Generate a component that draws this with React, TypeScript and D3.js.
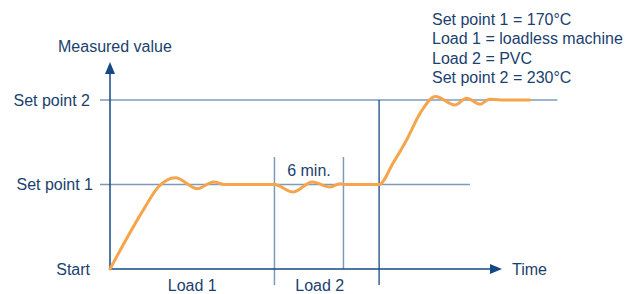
import React from "react";
import * as d3 from "d3";

// time in minutes, value in set-point levels (0 = start, 1 = set point 1, 2 = set point 2)
const curveT = [0, 2.9, 4.2, 5.7, 7.6, 9.0, 10.0, 14.3, 15.9, 17.6, 19.1, 20.0, 20.4, 23.4, 24.6, 25.8, 27.0, 28.3, 30.0, 31.0, 32.2, 33.0, 34.0, 36.5];
const curveV = [0, 0.7, 0.97, 1.08, 0.95, 1.03, 1.0, 1.0, 0.91, 1.03, 0.97, 1.01, 1.0, 1.0, 1.25, 1.53, 1.85, 2.04, 1.94, 2.02, 1.95, 2.01, 2.0, 2.0];

const levelLabels = ["Start", "Set point 1", "Set point 2"];
const levels = [0, 1, 2];
const load2Start = 14.3;
const sixMinEnd = 20.3;
const sp2Start = 23.4;
const notes = ["Set point 1 = 170°C", "Load 1 = loadless machine", "Load 2 = PVC", "Set point 2 = 230°C"];

const W = 625;
const H = 294;
const navy = "#134a85";
const textCol = "#1b3f6e";
const grid = "#7d9bb8";
const orange = "#f6a54c";
const fs = 16;

const App = () => {
  const x = d3.scaleLinear().domain([0, 6]).range([110, 179]);
  const y = d3.scaleLinear().domain([0, 2]).range([269, 100]);
  const pts: [number, number][] = curveT.map((t, i) => [t, curveV[i]]);
  const line = d3
    .line<[number, number]>()
    .x((d) => x(d[0]))
    .y((d) => y(d[1]))
    .curve(d3.curveMonotoneX);

  const x0 = x(0);
  const y0 = y(0);
  const font = "Arial, 'Liberation Sans', sans-serif";

  return (
    <svg width={W} height={H} style={{ position: "absolute", left: 0, top: 0 }} fontFamily={font}>
      {/* set point lines */}
      <line x1={100} x2={x(31.3)} y1={y(1)} y2={y(1)} stroke={grid} strokeWidth={1.5} />
      <line x1={100} x2={x(38.9)} y1={y(2)} y2={y(2)} stroke={grid} strokeWidth={1.5} />
      {/* load markers */}
      <line x1={x(load2Start)} x2={x(load2Start)} y1={157} y2={285} stroke={grid} strokeWidth={1.5} />
      <line x1={x(sixMinEnd)} x2={x(sixMinEnd)} y1={157} y2={y0} stroke={grid} strokeWidth={1.5} />
      <line x1={x(sp2Start)} x2={x(sp2Start)} y1={y(2)} y2={285} stroke={navy} strokeWidth={1.3} />
      {/* axes */}
      <line x1={x0} x2={x0} y1={y0} y2={70} stroke={navy} strokeWidth={1.5} />
      <path d={`M${x0},62 L${x0 - 5},74 L${x0 + 5},74 Z`} fill={navy} />
      <line x1={x0} x2={495} y1={y0} y2={y0} stroke={navy} strokeWidth={1.5} />
      <path d={`M502,${y0} L490,${y0 - 5} L490,${y0 + 5} Z`} fill={navy} />
      {/* curve */}
      <path d={line(pts) ?? ""} fill="none" stroke={orange} strokeWidth={3} strokeLinecap="round" strokeLinejoin="round" />
      {/* labels */}
      {levels.map((l, i) => (
        <text key={l} x={i === 1 ? 93 : 90} y={y(l)} dy="0.35em" textAnchor="end" fontSize={fs} fill={textCol}>
          {levelLabels[i]}
        </text>
      ))}
      <text x={58} y={52} fontSize={fs} fill={textCol}>Measured value</text>
      <text x={512} y={y0} dy="0.35em" fontSize={fs} fill={textCol}>Time</text>
      <text x={(x0 + x(load2Start)) / 2} y={291} textAnchor="middle" fontSize={fs} fill={textCol}>Load 1</text>
      <text x={(x(load2Start) + x(sp2Start)) / 2 - 7} y={291} textAnchor="middle" fontSize={fs} fill={textCol}>Load 2</text>
      <text x={(x(load2Start) + x(sixMinEnd)) / 2} y={176} textAnchor="middle" fontSize={fs} fill={textCol}>6 min.</text>
      {notes.map((n, i) => (
        <text key={n} x={432} y={25 + i * 19.3} fontSize={fs} fill={textCol}>{n}</text>
      ))}
    </svg>
  );
};

export default App;
